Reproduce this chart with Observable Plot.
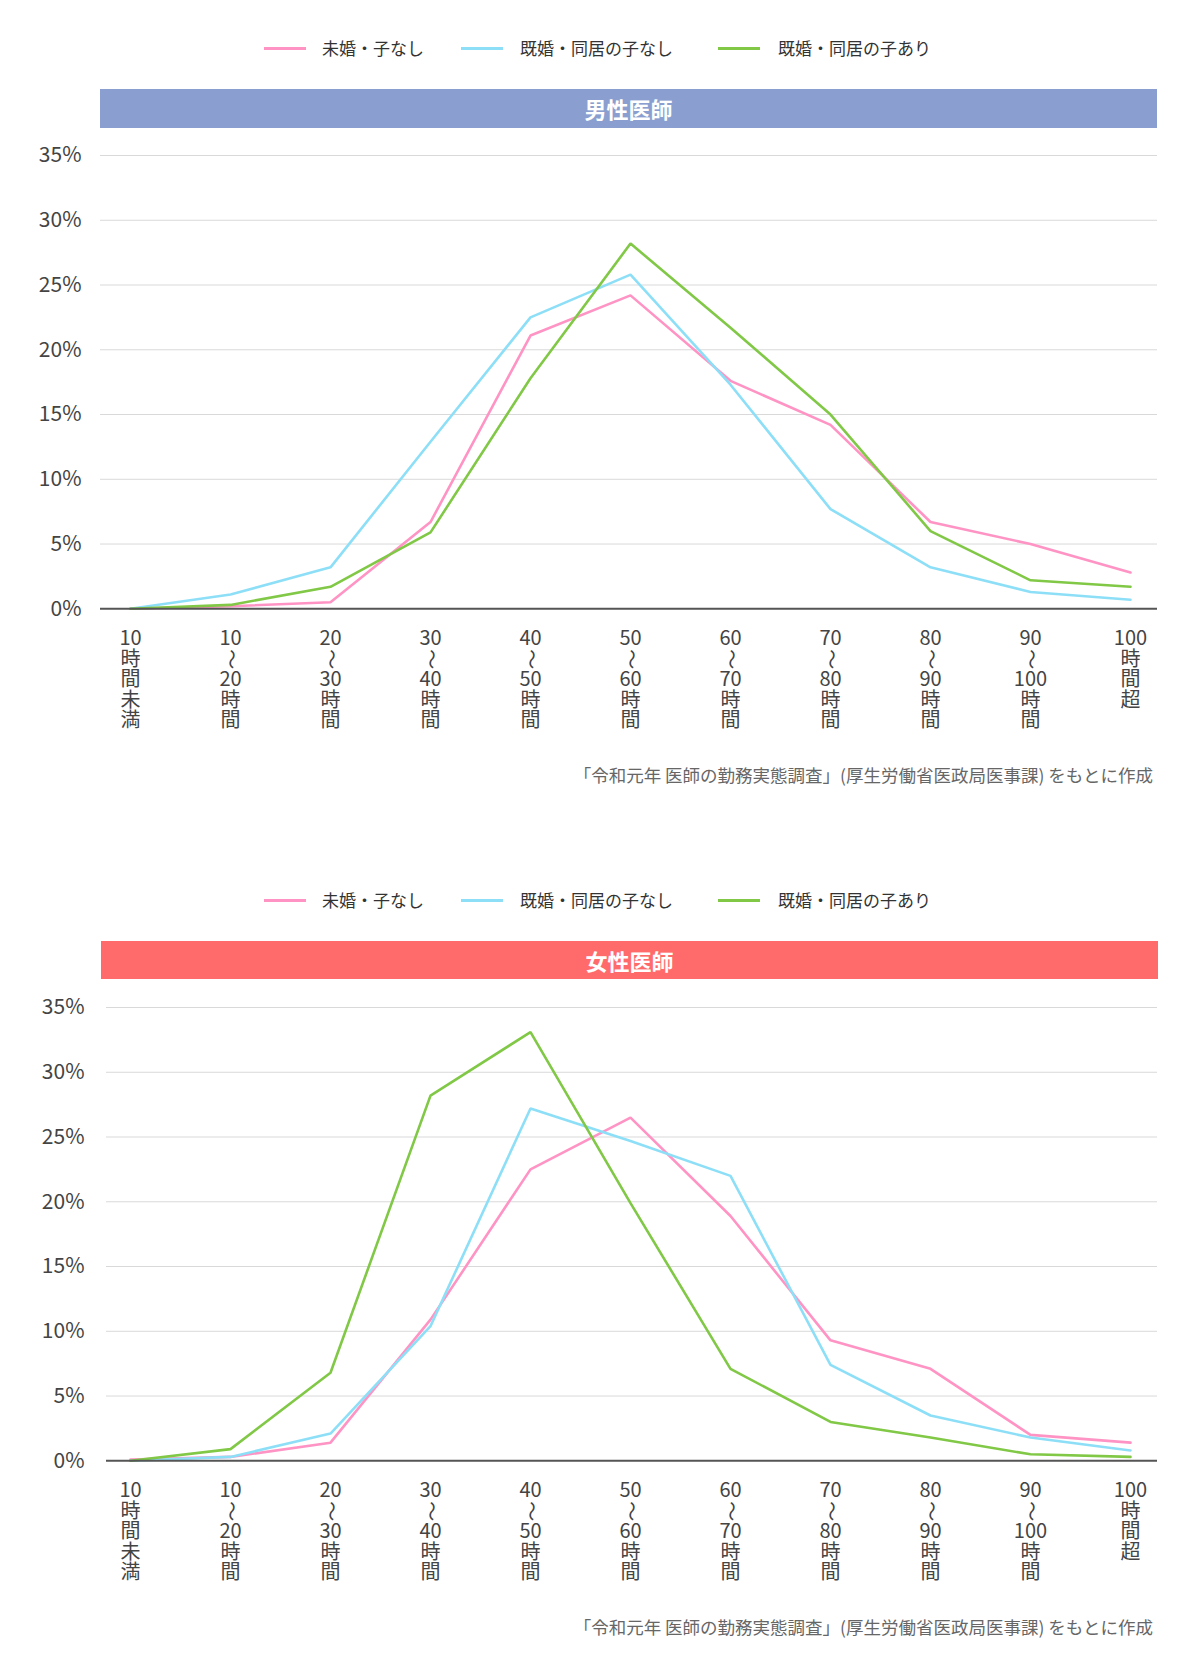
<!DOCTYPE html>
<html><head><meta charset="utf-8">
<script src="https://cdn.jsdelivr.net/npm/d3@7"></script>
<script src="https://cdn.jsdelivr.net/npm/@observablehq/plot@0.6"></script>
<style>
body{margin:0;background:#fff;font-family:"Noto Sans CJK JP","Noto Sans",sans-serif;}
#root{position:relative;width:1200px;height:1674px;overflow:hidden;}
.abs{position:absolute;}
.legtext{font-size:17px;color:#333;line-height:24px;white-space:nowrap;}
.sw{height:3px;}
.header{color:#fff;font-weight:bold;font-size:22px;text-align:center;}
.caption{font-size:17.5px;color:#666;white-space:nowrap;text-align:right;}
</style></head>
<body><div id="root"></div>
<script>
const categories = ["10時間未満","10〜20時間","20〜30時間","30〜40時間","40〜50時間","50〜60時間","60〜70時間","70〜80時間","80〜90時間","90〜100時間","100時間超"];
const tickLines = [
  ["10","時","間","未","満"],["10","〜","20","時","間"],["20","〜","30","時","間"],["30","〜","40","時","間"],
  ["40","〜","50","時","間"],["50","〜","60","時","間"],["60","〜","70","時","間"],["70","〜","80","時","間"],
  ["80","〜","90","時","間"],["90","〜","100","時","間"],["100","時","間","超"]
];
const seriesNames = ["未婚・子なし","既婚・同居の子なし","既婚・同居の子あり"];
const seriesColors = ["#ff94c4","#8ddff7","#80c846"];
const yTicks = [0,5,10,15,20,25,30,35];

const maleSingle      = [0, 0.2, 0.5, 6.7, 21.1, 24.2, 17.6, 14.2, 6.7, 5.0, 2.8];
const maleMarriedNo   = [0, 1.1, 3.2, 12.9, 22.5, 25.8, 17.3, 7.7, 3.2, 1.3, 0.7];
const maleWithChild   = [0, 0.3, 1.7, 5.9, 17.8, 28.2, 21.7, 15.0, 6.0, 2.2, 1.7];
const femaleSingle    = [0.1, 0.3, 1.4, 10.9, 22.5, 26.5, 18.9, 9.3, 7.1, 2.0, 1.4];
const femaleMarriedNo = [0, 0.3, 2.1, 10.4, 27.2, 24.7, 22.0, 7.4, 3.5, 1.8, 0.8];
const femaleWithChild = [0, 0.9, 6.8, 28.2, 33.1, 19.9, 7.1, 3.0, 1.8, 0.5, 0.3];

const captionText = "「令和元年 医師の勤務実態調査」(厚生労働省医政局医事課) をもとに作成";
const root = document.getElementById("root");

function el(cls, style, text){
  const d = document.createElement("div");
  d.className = "abs " + cls;
  Object.assign(d.style, style);
  if (text != null) d.textContent = text;
  root.appendChild(d);
  return d;
}

function legend(cy){
  const swX = [264, 461, 718];
  const txX = [322, 520, 778];
  seriesNames.forEach((n,i)=>{
    el("sw", {left: swX[i]+"px", top:(cy-1.5)+"px", width:"42px", background: seriesColors[i]});
    el("legtext", {left: txX[i]+"px", top:(cy-12)+"px"}, n);
  });
}

function chart(opts){
  const {title, color, barTop, barLeft, barH, svgTop, marginLeft, tickPad, series} = opts;
  el("header", {left: barLeft+"px", top: barTop+"px", width:"1057px", height: barH+"px", lineHeight: barH+"px", background: color}, title);
  const data = [];
  series.forEach((arr,si)=> arr.forEach((v,i)=> data.push({cat: categories[i], v, s: seriesNames[si]})));
  const lineRows = [];
  tickLines.forEach((ls,i)=> ls.forEach((t,k)=> lineRows.push({cat: categories[i], t, k})));
  const textMarks = [0,1,2,3,4].map(k => Plot.text(lineRows.filter(r=>r.k===k), {
    x: "cat", text: "t", frameAnchor: "bottom", lineAnchor: "middle", textAnchor: "middle",
    dy: 30 + k*20.5, rotate: r => r.t === "〜" ? 90 : 0, fontSize: 20, fill: "#444"
  }));
  const svg = Plot.plot({
    width: 1200, height: 600,
    marginLeft, marginRight: 43, marginTop: 20, marginBottom: 126.7,
    style: {fontFamily: '"Noto Sans CJK JP","Noto Sans",sans-serif', fontSize: "21px", color: "#444", background: "transparent", overflow: "visible"},
    x: {type: "point", domain: categories, range: [130, 1130], padding: 0, axis: null},
    y: {domain: [0, 35], ticks: yTicks, tickFormat: d => d + "%", tickSize: 0, tickPadding: tickPad, label: null},
    color: {domain: seriesNames, range: seriesColors},
    marks: [
      Plot.ruleY(yTicks.filter(d=>d>0), {stroke: "#d9d9d9", strokeWidth: 1}),
      Plot.line(data, {x: "cat", y: "v", z: "s", stroke: "s", strokeWidth: 2.6, strokeLinejoin: "miter"}),
      Plot.ruleY([0], {stroke: "#555", strokeWidth: 2}),
      ...textMarks
    ]
  });
  svg.style.position = "absolute";
  svg.style.left = "0px";
  svg.style.top = svgTop + "px";
  root.appendChild(svg);
  el("caption", {right: "47px", top: (svgTop + 600 + 27) + "px"}, captionText);
}

legend(48);
chart({title: "男性医師", color: "#8a9fcf", barTop: 88.5, barLeft: 100, barH: 39.5, svgTop: 135, marginLeft: 100, tickPad: 19,
  series: [maleSingle, maleMarriedNo, maleWithChild]});
legend(900);
chart({title: "女性医師", color: "#ff6b6b", barTop: 940.5, barLeft: 101, barH: 38.5, svgTop: 986.7, marginLeft: 106, tickPad: 22,
  series: [femaleSingle, femaleMarriedNo, femaleWithChild]});
</script>
</body></html>
